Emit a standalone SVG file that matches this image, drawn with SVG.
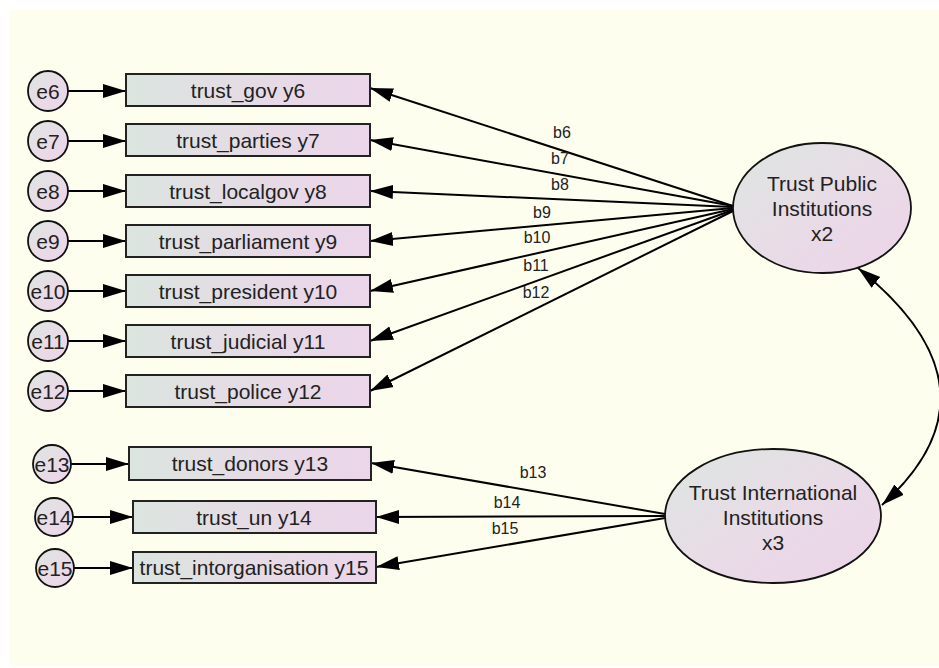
<svg xmlns="http://www.w3.org/2000/svg" width="939" height="668" viewBox="0 0 939 668">
<defs>
<linearGradient id="gRect" x1="0" y1="0" x2="1" y2="0">
<stop offset="0" stop-color="#dbe5df"/>
<stop offset="0.6" stop-color="#e7dae6"/>
<stop offset="1" stop-color="#ebd5ea"/>
</linearGradient>
<linearGradient id="gEll" x1="0" y1="0" x2="1" y2="1">
<stop offset="0" stop-color="#dde6e1"/>
<stop offset="0.5" stop-color="#e8dce6"/>
<stop offset="1" stop-color="#edd3ea"/>
</linearGradient>
<marker id="ah" markerUnits="userSpaceOnUse" markerWidth="24" markerHeight="16" viewBox="0 0 24 16" refX="23" refY="8" orient="auto-start-reverse">
<path d="M0,1 L23,8 L0,15 z" fill="#000"/>
</marker>
<style>
.node rect{fill:url(#gRect);stroke:#222;stroke-width:2}
.node circle, .node ellipse{fill:url(#gEll);stroke:#111;stroke-width:1.8}
text{font-family:"Liberation Sans",Arial,sans-serif;fill:#222}
.t{font-size:21px;text-anchor:middle}
.e{font-size:21px;text-anchor:middle}
.b{font-size:16px;text-anchor:middle}
#connectors line, #connectors path{stroke:#000;stroke-width:2;fill:none;marker-end:url(#ah)}
</style>
</defs>
<rect x="0" y="0" width="939" height="668" fill="#ffffff"/>
<rect x="9" y="10" width="930" height="656" fill="#fefeef"/>

<g id="connectors">
<line x1="68" y1="91" x2="126" y2="91"/>
<line x1="68" y1="141" x2="126" y2="141"/>
<line x1="68" y1="191" x2="126" y2="191"/>
<line x1="68" y1="241" x2="126" y2="241"/>
<line x1="68" y1="291" x2="126" y2="291"/>
<line x1="68" y1="341" x2="126" y2="341"/>
<line x1="68" y1="391" x2="126" y2="391"/>
<line x1="71" y1="464" x2="129" y2="464"/>
<line x1="73" y1="517" x2="133" y2="517"/>
<line x1="74" y1="568" x2="133" y2="568"/>
<line x1="733" y1="206" x2="370" y2="88"/>
<line x1="733" y1="206" x2="370" y2="140"/>
<line x1="733" y1="207" x2="370" y2="191"/>
<line x1="733" y1="208" x2="370" y2="241"/>
<line x1="733" y1="209" x2="370" y2="291"/>
<line x1="733" y1="210" x2="370" y2="341"/>
<line x1="733" y1="211" x2="370" y2="391"/>
<line x1="665" y1="514" x2="371" y2="463"/>
<line x1="665" y1="516" x2="376" y2="517"/>
<line x1="665" y1="518" x2="376" y2="567"/>
<path d="M858,268 Q1010,390 882,505" style="marker-start:url(#ah)"/>
<text class="b" x="562" y="138">b6</text>
<text class="b" x="560" y="164">b7</text>
<text class="b" x="560" y="190">b8</text>
<text class="b" x="542" y="218">b9</text>
<text class="b" x="537" y="243">b10</text>
<text class="b" x="536" y="271">b11</text>
<text class="b" x="536" y="298">b12</text>
<text class="b" x="533" y="478">b13</text>
<text class="b" x="507" y="508">b14</text>
<text class="b" x="505" y="534">b15</text>
</g>

<g id="y6" class="node"><rect x="126" y="74" width="244" height="32"/><text class="t" x="248" y="98">trust_gov y6</text></g>
<g id="y7" class="node"><rect x="126" y="124" width="244" height="32"/><text class="t" x="248" y="148">trust_parties y7</text></g>
<g id="y8" class="node"><rect x="126" y="175" width="244" height="32"/><text class="t" x="248" y="199">trust_localgov y8</text></g>
<g id="y9" class="node"><rect x="126" y="225" width="244" height="32"/><text class="t" x="248" y="249">trust_parliament y9</text></g>
<g id="y10" class="node"><rect x="126" y="275" width="244" height="32"/><text class="t" x="248" y="299">trust_president y10</text></g>
<g id="y11" class="node"><rect x="126" y="325" width="244" height="32"/><text class="t" x="248" y="349">trust_judicial y11</text></g>
<g id="y12" class="node"><rect x="126" y="375" width="244" height="32"/><text class="t" x="248" y="399">trust_police y12</text></g>
<g id="y13" class="node"><rect x="129" y="447" width="242" height="33"/><text class="t" x="250" y="471">trust_donors y13</text></g>
<g id="y14" class="node"><rect x="133" y="501" width="243" height="32"/><text class="t" x="254" y="525">trust_un y14</text></g>
<g id="y15" class="node"><rect x="133" y="552" width="243" height="31"/><text class="t" x="254" y="575">trust_intorganisation y15</text></g>

<g id="e6" class="node"><circle cx="48" cy="91" r="20"/><text class="e" x="48" y="98.5">e6</text></g>
<g id="e7" class="node"><circle cx="48" cy="141" r="20"/><text class="e" x="48" y="148.5">e7</text></g>
<g id="e8" class="node"><circle cx="48" cy="191" r="20"/><text class="e" x="48" y="198.5">e8</text></g>
<g id="e9" class="node"><circle cx="48" cy="241" r="20"/><text class="e" x="48" y="248.5">e9</text></g>
<g id="e10" class="node"><circle cx="48" cy="291" r="20"/><text class="e" x="48" y="298.5">e10</text></g>
<g id="e11" class="node"><circle cx="48" cy="341" r="20"/><text class="e" x="48" y="348.5">e11</text></g>
<g id="e12" class="node"><circle cx="48" cy="391" r="20"/><text class="e" x="48" y="398.5">e12</text></g>
<g id="e13" class="node"><circle cx="52" cy="464" r="19"/><text class="e" x="52" y="471.5">e13</text></g>
<g id="e14" class="node"><circle cx="54" cy="517" r="19"/><text class="e" x="54" y="524.5">e14</text></g>
<g id="e15" class="node"><circle cx="55" cy="568" r="19"/><text class="e" x="55" y="575.5">e15</text></g>

<g id="x2" class="node"><ellipse cx="822" cy="208" rx="89" ry="65"/>
<text class="t" x="822" y="190.5">Trust Public</text>
<text class="t" x="822" y="215.5">Institutions</text>
<text class="t" x="822" y="240.5">x2</text></g>
<g id="x3" class="node"><ellipse cx="773" cy="516" rx="108" ry="67"/>
<text class="t" x="773" y="499.5">Trust International</text>
<text class="t" x="773" y="524.5">Institutions</text>
<text class="t" x="773" y="549.5">x3</text></g>
</svg>
